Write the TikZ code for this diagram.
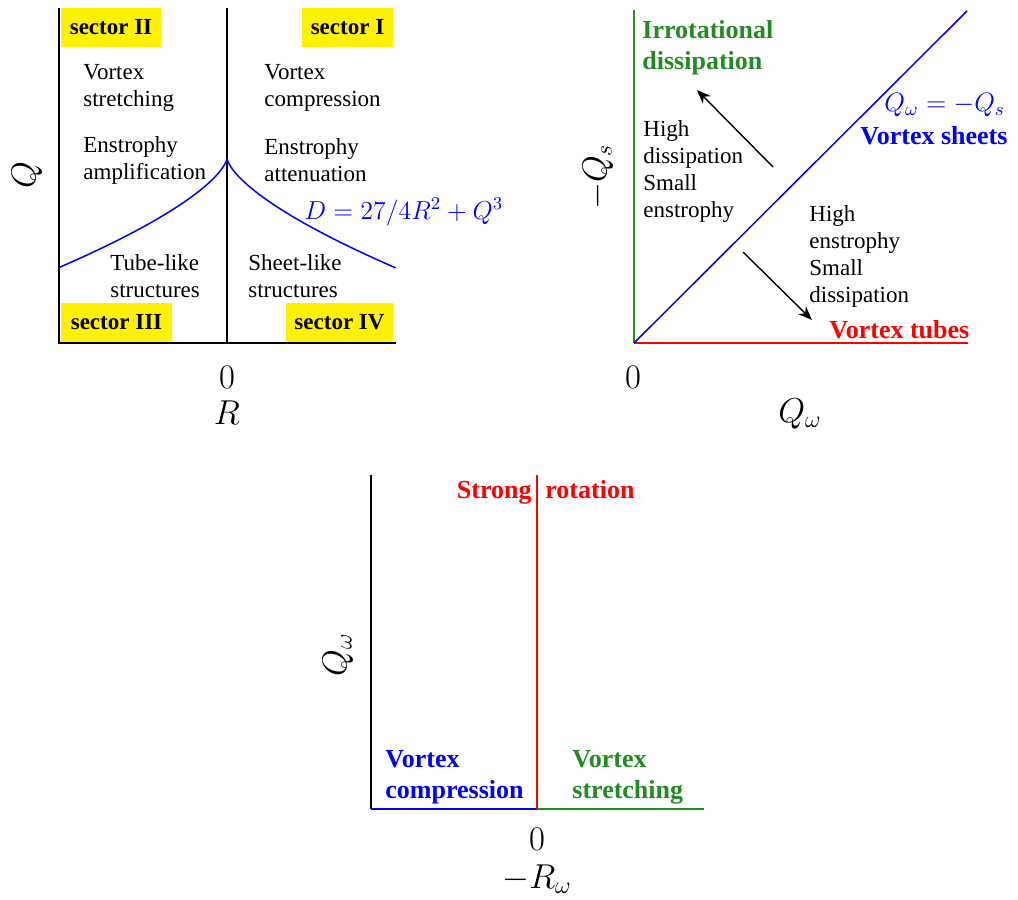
\documentclass[tikz,border=0pt]{standalone}
\usepackage{fix-cm}
\usepackage[no-math]{fontspec}
\setmainfont{Liberation Serif}
\usetikzlibrary{arrows.meta}
\definecolor{fgreen}{RGB}{34,139,34}
\tikzset{
  txt/.style={inner sep=0pt, align=left, anchor=west, font=\fontsize{11.5}{13.5}\selectfont},
  btxt/.style={inner sep=0pt, align=left, anchor=west, font=\fontsize{13}{15.5}\selectfont\bfseries},
  sectorbox/.style={fill=yellow, inner sep=0pt, minimum width=#1, minimum height=19.5pt, font=\fontsize{11.5}{13.5}\selectfont\bfseries},
  axlbl/.style={inner sep=0pt, font=\fontsize{17.28}{20}\selectfont},
  eqlbl/.style={inner sep=0pt, anchor=west, text=blue, font=\fontsize{13}{16}\selectfont},
  axis/.style={line width=0.8pt},
  dirarrow/.style={line width=0.7pt, -{Stealth[length=7pt,width=5.5pt]}},
}
\begin{document}
\begin{tikzpicture}[x=0.5pt,y=-0.5pt]
\useasboundingbox (0,0) rectangle (1018,900);
% --- Q-R plane
\node[sectorbox=50pt] (s2) at (111,27.5) {sector II};
\node[sectorbox=45.5pt] (s1) at (347.5,27.5) {sector I};
\node[sectorbox=55.5pt] (s3) at (116.5,322.5) {sector III};
\node[sectorbox=53.5pt] (s4) at (339.5,322.5) {sector IV};
\coordinate (qrtl) at (59,8);
\coordinate (qrbl) at (59,343);
\coordinate (qrbr) at (396,343);
\coordinate (qrtop) at (227,8);
\coordinate (qrbot) at (227,343);
\draw[axis] (qrtl) -- (qrbl) -- (qrbr);
\draw[axis] (qrtop) -- (qrbot);
\draw[blue, line width=0.75pt] plot[domain=0:1, samples=60] ({227-169*\x^3},{158+110*\x^2});
\draw[blue, line width=0.75pt] plot[domain=0:1, samples=60] ({227+169*\x^3},{158+110*\x^2});
\node[txt] (vstr) at (83,87.5) {Vortex\\stretching};
\node[txt] (vcom) at (264,87.5) {Vortex\\compression};
\node[txt] (eamp) at (83,160) {Enstrophy\\amplification};
\node[txt] (eatt) at (264,160) {Enstrophy\\attenuation};
\node[txt] (tube) at (110,276) {Tube-like\\structures};
\node[txt] (sheet) at (248,276) {Sheet-like\\structures};
\node[eqlbl] (disc) at (304,212) {$D=27/4R^2+Q^3$};
\node[axlbl, rotate=90] (qlbl) at (27,175) {$Q$};
\node[axlbl] (zero1) at (227,377) {$0$};
\node[axlbl] (rlbl) at (227,413) {$R$};
% --- Q_w - (-Q_s) plane
\coordinate (wo) at (634,343);
\coordinate (wtop) at (634,10);
\coordinate (wright) at (968,343);
\coordinate (wdiag) at (967,11);
\draw[fgreen, axis] (wo) -- (wtop);
\draw[red, line width=1pt] (wo) -- (wright);
\draw[blue, line width=0.75pt] (wo) -- (wdiag);
\node[btxt, text=fgreen] (irr) at (642,47.5) {Irrotational\\dissipation};
\node[txt] (hdiss) at (643,171) {High\\dissipation\\Small\\enstrophy};
\node[txt] (henst) at (809,256.5) {High\\enstrophy\\Small\\dissipation};
\coordinate (a1s) at (773,167);
\coordinate (a1e) at (697,90);
\coordinate (a2s) at (743,252);
\coordinate (a2e) at (812,320);
\draw[dirarrow] (a1s) -- (a1e);
\draw[dirarrow] (a2s) -- (a2e);
\node[eqlbl, font=\fontsize{13.3}{16}\selectfont] (sheq) at (884,105) {$Q_\omega=-Q_s$};
\node[btxt, text=blue] (vsh) at (860,136) {Vortex sheets};
\node[btxt, text=red] (vtu) at (829,330) {Vortex tubes};
\node[axlbl, rotate=90] (qslbl) at (598,177) {$-Q_s$};
\node[axlbl] (zero2) at (633,377) {$0$};
\node[axlbl] (qwlbl) at (800,414) {$Q_\omega$};
% --- Q_w - (-R_w) plane
\coordinate (rtl) at (371,475);
\coordinate (rbl) at (371,809);
\coordinate (rmid) at (537,809);
\coordinate (rtop) at (537,475);
\coordinate (rbr) at (704,809);
\draw[axis] (rtl) -- (rbl);
\draw[blue, axis] (rbl) -- (rmid);
\draw[fgreen, axis] (rmid) -- (rbr);
\draw[red, line width=0.75pt] (rmid) -- (rtop);
\node[btxt, anchor=base east, text=red] (strong) at (532,498) {Strong};
\node[btxt, anchor=base west, text=red] (rot) at (545,498) {rotation};
\node[btxt, text=blue] (vcmp) at (385,777.5) {Vortex\\compression};
\node[btxt, text=fgreen] (vstc) at (572,777.5) {Vortex\\stretching};
\node[axlbl, rotate=90] (qwlbl2) at (338,655) {$Q_\omega$};
\node[axlbl] (zero3) at (537,839) {$0$};
\node[axlbl] (rwlbl) at (537,879) {$-R_\omega$};
\end{tikzpicture}
\end{document}
